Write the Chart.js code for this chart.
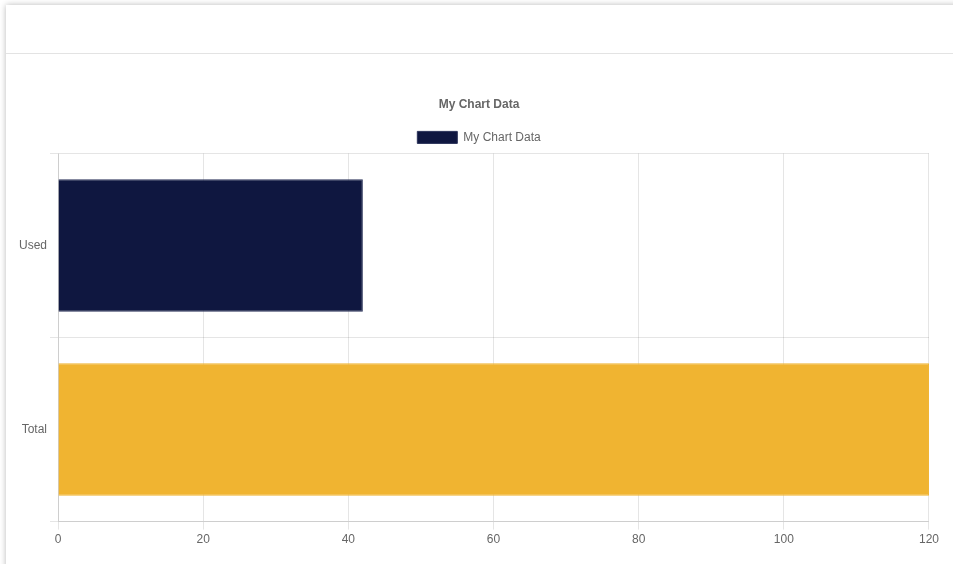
<!DOCTYPE html>
<html>
<head>
<meta charset="utf-8">
<script src="https://cdn.jsdelivr.net/npm/chart.js@4/dist/chart.umd.min.js"></script>
<style>
  html, body { margin: 0; padding: 0; background: #fff; overflow: hidden; }
  .card {
    position: absolute;
    left: 6px; top: 5px;
    width: 980px; height: 620px;
    background: #fff;
    box-shadow: 0 0 6px rgba(0, 0, 0, 0.28);
  }
  .card-header {
    height: 48px;
    border-bottom: 1px solid #e3e3e3;
  }
  .chart-box {
    position: absolute;
    left: 10px; top: 82px;
    width: 926px; height: 463px;
  }
</style>
</head>
<body>
<div class="card">
  <div class="card-header"></div>
  <div class="chart-box"><canvas id="myChart"></canvas></div>
</div>
<script>
// chart data
const labels = ['Used', 'Total'];
const values = [42, 120];
const barColors = ['#0f1740', '#f0b431'];
const borderColors = ['#2b335a', '#f0b431'];
const chartTitle = 'My Chart Data';

Chart.defaults.font.family = "Arial, 'Liberation Sans', sans-serif";
Chart.defaults.font.size = 12;
Chart.defaults.color = '#666';

new Chart(document.getElementById('myChart').getContext('2d'), {
    type: 'bar',
    data: {
        labels: labels,
        datasets: [{
            label: chartTitle,
            data: values,
            backgroundColor: barColors,
            borderColor: borderColors,
            borderWidth: 1
        }]
    },
    options: {
        indexAxis: 'y',
        responsive: true,
        maintainAspectRatio: false,
        animation: false,
        scales: {
            x: { beginAtZero: true },
            y: {}
        },
        plugins: {
            title: {
                display: true,
                text: chartTitle,
                font: { weight: 'bold', size: 12 }
            },
            legend: { display: true }
        }
    }
});
</script>
</body>
</html>
